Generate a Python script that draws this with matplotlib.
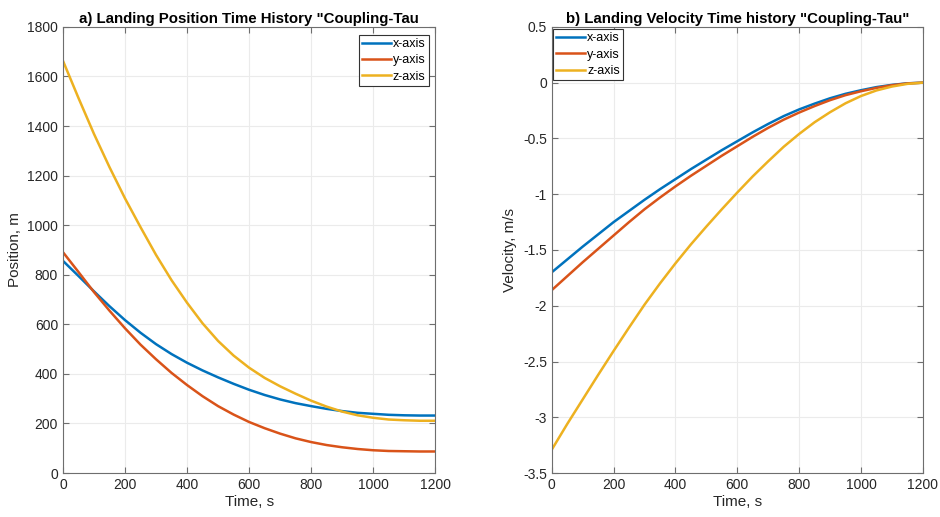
import matplotlib
matplotlib.use("Agg")
import matplotlib.pyplot as plt

plt.rcParams['font.family'] = ['Liberation Sans', 'DejaVu Sans']

time_s = [0, 50, 100, 150, 200, 250, 300, 350, 400, 450, 500, 550, 600,
          650, 700, 750, 800, 850, 900, 950, 1000, 1050, 1100, 1150, 1200]

pos_x = [856, 795, 733, 673, 617, 566, 520, 480, 445, 414, 386, 360, 336,
         315, 297, 282, 270, 259, 250, 243, 239, 235, 233, 232, 232]
pos_y = [891, 811, 730, 655, 584, 518, 459, 404, 355, 310, 270, 236, 206,
         181, 159, 140, 125, 113, 104, 97, 92, 89, 88, 87, 87]
pos_z = [1663, 1513, 1368, 1234, 1108, 992, 880, 778, 687, 604, 533, 474, 425,
         384, 350, 320, 292, 268, 248, 233, 223, 216, 213, 211, 211]

vel_x = [-1.70, -1.585, -1.47, -1.36, -1.25, -1.15, -1.05, -0.955, -0.865, -0.775,
         -0.69, -0.605, -0.525, -0.445, -0.37, -0.30, -0.24, -0.188, -0.14, -0.10,
         -0.068, -0.04, -0.02, -0.006, 0.0]
vel_y = [-1.86, -1.735, -1.61, -1.49, -1.37, -1.25, -1.135, -1.03, -0.93, -0.835,
         -0.745, -0.655, -0.57, -0.485, -0.405, -0.332, -0.268, -0.21, -0.157, -0.112,
         -0.077, -0.047, -0.023, -0.007, 0.0]
vel_z = [-3.29, -3.06, -2.84, -2.62, -2.405, -2.195, -1.99, -1.80, -1.62, -1.45,
         -1.29, -1.135, -0.985, -0.84, -0.705, -0.575, -0.46, -0.355, -0.265, -0.185,
         -0.12, -0.07, -0.035, -0.011, 0.0]

series_labels = ['x-axis', 'y-axis', 'z-axis']
colors = ['#0072BD', '#D95319', '#EDB120']

x_ticks = [0, 200, 400, 600, 800, 1000, 1200]
pos_ticks = [0, 200, 400, 600, 800, 1000, 1200, 1400, 1600, 1800]
vel_ticks = [-3.5, -3, -2.5, -2, -1.5, -1, -0.5, 0, 0.5]
vel_ticklabels = ['-3.5', '-3', '-2.5', '-2', '-1.5', '-1', '-0.5', '0', '0.5']

fig = plt.figure(figsize=(9.4, 5.17), dpi=100)
ax1 = fig.add_axes([0.067, 0.085, 0.396, 0.863])
ax2 = fig.add_axes([0.587, 0.085, 0.3947, 0.863])

txt = '#262626'


def style(ax):
    ax.set_xlim(0, 1200)
    ax.set_xticks(x_ticks)
    ax.grid(True, color='#EBEBEB', linewidth=0.8)
    ax.set_axisbelow(True)
    for sp in ax.spines.values():
        sp.set_color('#6E6E6E')
        sp.set_linewidth(0.8)
    ax.tick_params(direction='in', top=True, right=True, length=4,
                   color='#6E6E6E', labelsize=10, labelcolor=txt, width=0.8)
    ax.set_xlabel('Time, s', fontsize=11, color=txt, labelpad=2)


def legend(ax, loc, anchor):
    leg = ax.legend(loc=loc, fontsize=9, handlelength=2.3,
                    handletextpad=0.15, borderpad=0.25, labelspacing=0.35,
                    borderaxespad=0.0, fancybox=False, framealpha=1,
                    edgecolor='#333333', bbox_to_anchor=anchor)
    leg.get_frame().set_linewidth(0.8)
    return leg


for vals, lab, c in zip([pos_x, pos_y, pos_z], series_labels, colors):
    ax1.plot(time_s, vals, color=c, linewidth=1.8, label=lab)
style(ax1)
ax1.set_ylim(0, 1800)
ax1.set_yticks(pos_ticks)
ax1.set_ylabel('Position, m', fontsize=11, color=txt, labelpad=4)
ax1.set_title('a) Landing Position Time History "Coupling-Tau', fontsize=10.8,
              fontweight='bold', color='black', pad=3)
legend(ax1, 'upper right', (0.982, 0.982))

for vals, lab, c in zip([vel_x, vel_y, vel_z], series_labels, colors):
    ax2.plot(time_s, vals, color=c, linewidth=1.8, label=lab)
style(ax2)
ax2.set_ylim(-3.5, 0.5)
ax2.set_yticks(vel_ticks)
ax2.set_yticklabels(vel_ticklabels)
ax2.set_ylabel('Velocity, m/s', fontsize=11, color=txt, labelpad=4)
ax2.set_title('b) Landing Velocity Time history "Coupling-Tau"', fontsize=10.8,
              fontweight='bold', color='black', pad=3)
legend(ax2, 'upper left', (0.004, 0.995))

fig.savefig('out.png', dpi=100)
